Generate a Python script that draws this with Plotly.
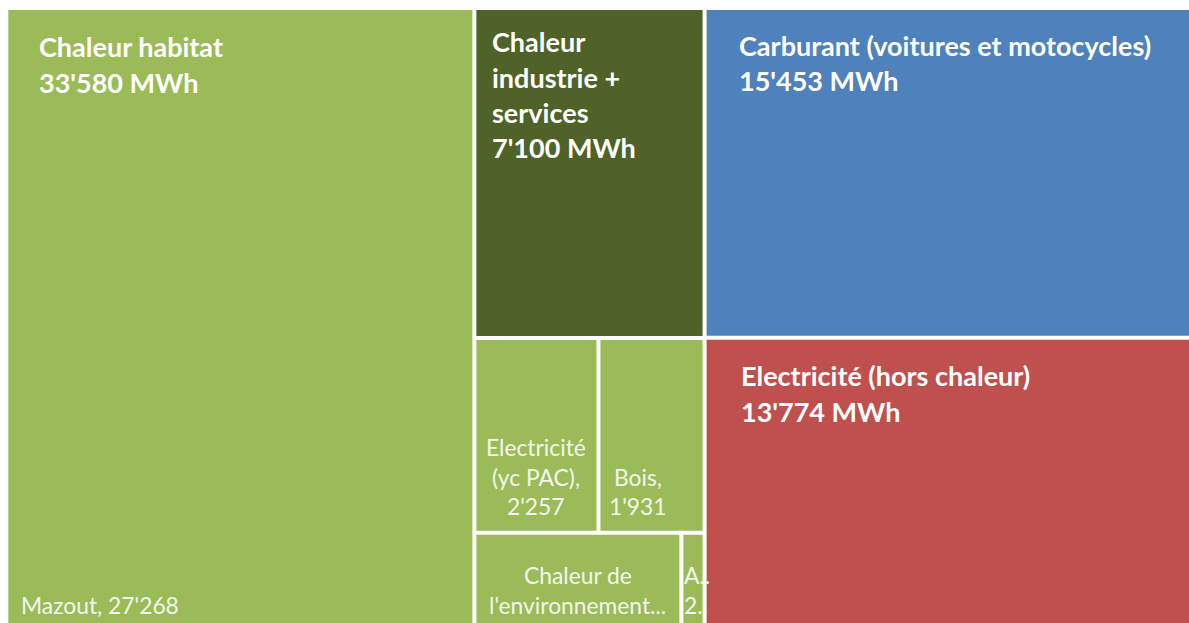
import plotly.graph_objects as go

# ---------------- data ----------------
group_names = ["Chaleur habitat", "Chaleur industrie + services",
               "Carburant (voitures et motocycles)", "Electricité (hors chaleur)"]
group_totals = [33580, 7100, 15453, 13774]
group_colors = ["#9BBB59", "#4F6228", "#4F81BD", "#C0504D"]

habitat_items = ["Mazout", "Electricité (yc PAC)", "Bois", "Chaleur de l'environnement", "Autres"]
habitat_values = [27268, 2257, 1931, 1910, 214]
# labels as displayed (wrapped / truncated like the reference)
habitat_labels = [["Mazout, 27'268"], ["Electricité", "(yc PAC),", "2'257"],
                  ["Bois,", "1'931"], ["Chaleur de", "l'environnement..."], ["A..", "2.."]]
group_label_lines = [["Chaleur habitat"], ["Chaleur", "industrie +", "services"],
                     ["Carburant (voitures et motocycles)"], ["Electricité (hors chaleur)"]]
unit = "MWh"


def fmt(v):
    return f"{v:,}".replace(",", "'")


# ---------------- layout of the tiles (from values) ----------------
total = sum(group_totals)
maz = habitat_values[0]
col2 = group_totals[1] + sum(habitat_values[1:])
col3 = group_totals[2] + group_totals[3]
xa, xb = maz / total, (maz + col2) / total

h_ind = group_totals[1] / col2
row1 = habitat_values[1] + habitat_values[2]
row2 = habitat_values[3] + habitat_values[4]
y_r1 = h_ind + row1 / col2
x_r1 = xa + (xb - xa) * habitat_values[1] / row1
x_r2 = xa + (xb - xa) * habitat_values[3] / row2
y_c3 = group_totals[2] / col3

# (x0, x1, y0, y1) with y measured downward
tiles = {
    "Mazout": (0, xa, 0, 1),
    "Industrie": (xa, xb, 0, h_ind),
    "Elec": (xa, x_r1, h_ind, y_r1),
    "Bois": (x_r1, xb, h_ind, y_r1),
    "Env": (xa, x_r2, y_r1, 1),
    "Autres": (x_r2, xb, y_r1, 1),
    "Carburant": (xb, 1, 0, y_c3),
    "ElecHC": (xb, 1, y_c3, 1),
}
tile_colors = {
    "Mazout": group_colors[0], "Elec": group_colors[0], "Bois": group_colors[0],
    "Env": group_colors[0], "Autres": group_colors[0],
    "Industrie": group_colors[1], "Carburant": group_colors[2], "ElecHC": group_colors[3],
}

# ---------------- pixel mapping ----------------
FIG_W, FIG_H = 1189, 623
PX_W, PX_H = 1200.0, 623.5     # full tiled area in pixels
OX, OY = 6.3, 8.0              # origin of the tiled area
GAP = 4.0
dx, dy = GAP / 2 / PX_W, GAP / 2 / PX_H

fig = go.Figure()
shapes = []
vis = {}
for k, (x0, x1, y0, y1) in tiles.items():
    r = (x0 + dx, x1 - dx, y0 + dy, y1 - dy)
    vis[k] = r
    shapes.append(dict(type="rect", xref="x", yref="y", x0=r[0], x1=r[1], y0=r[2], y1=r[3],
                       fillcolor=tile_colors[k], line=dict(width=0), layer="below"))

annotations = []
BIG = 27
SMALL = 22.8
FONT = "Lato, 'Open Sans', sans-serif"


def add_line(text, x, y, xanchor, xshift, base_off, size, bold, color):
    # base_off: pixels downward from y to the text baseline -> converted to data units
    yb = y + base_off / PX_H
    annotations.append(dict(
        xref="x", yref="y", x=x, y=yb, xanchor=xanchor, yanchor="middle",
        xshift=xshift, yshift=0.387 * size,
        text=(f"<b>{text}</b>" if bold else text), showarrow=False,
        font=dict(family=FONT, size=size, color=color), borderpad=0))


# big group labels (top-left)
big_specs = [("Mazout", 29.4, 47.3), ("Industrie", 15.0, 42.3),
             ("Carburant", 31.6, 46.0), ("ElecHC", 33.5, 46.7)]
LS_BIG = 35.2
for gi, (tile, xo, b0) in enumerate(big_specs):
    r = vis[tile]
    lines = group_label_lines[gi] + [f"{fmt(group_totals[gi])} {unit}"]
    for li, t in enumerate(lines):
        add_line(t, r[0], r[2], "left", xo, b0 + li * LS_BIG, BIG, True, "white")

# small leaf labels (bottom)
LS_SMALL = 29.7
BOT = 15.5
small_specs = [("Mazout", "left", 11.7), ("Elec", "center", None), ("Bois", "leftc", 37.5),
               ("Env", "center", None), ("Autres", "left", -0.5)]
for hi, (tile, mode, xo) in enumerate(small_specs):
    r = vis[tile]
    lines = habitat_labels[hi]
    n = len(lines)
    for li, t in enumerate(lines):
        base = -(BOT + (n - 1 - li) * LS_SMALL)
        if mode == "center":
            add_line(t, (r[0] + r[1]) / 2, r[3], "center", 0, base, SMALL, False, "#F3F6EC")
        elif mode == "leftc":
            add_line(t, r[0], r[3], "center", xo, base, SMALL, False, "#F3F6EC")
        else:
            add_line(t, r[0], r[3], "left", xo, base, SMALL, False, "#F3F6EC")

fig.update_layout(
    width=FIG_W, height=FIG_H, margin=dict(l=0, r=0, t=0, b=0),
    paper_bgcolor="white", plot_bgcolor="white", showlegend=False,
    shapes=shapes, annotations=annotations,
    xaxis=dict(range=[-OX / PX_W, (FIG_W - OX) / PX_W], visible=False, fixedrange=True),
    yaxis=dict(range=[(FIG_H - OY) / PX_H, -OY / PX_H], visible=False, fixedrange=True),
)

fig.write_html("out.html", config={"displayModeBar": False},
               post_script="document.body.style.margin='0';document.body.style.overflow='hidden';")
